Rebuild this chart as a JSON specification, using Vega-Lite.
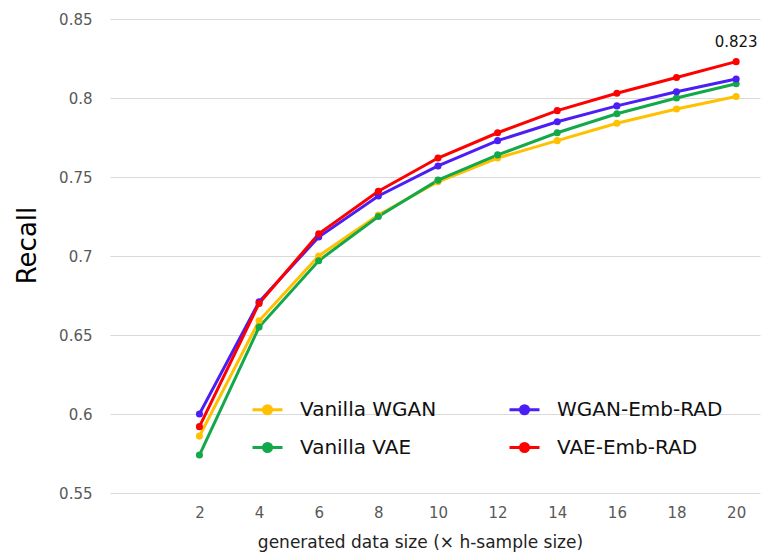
{
  "$schema": "https://vega.github.io/schema/vega-lite/v6.json",
  "autosize": "none",
  "width": 650,
  "height": 474,
  "padding": {"left": 110, "top": 19, "right": 2, "bottom": 63},
  "background": "white",
  "config": {
    "font": "DejaVu Sans",
    "view": {"stroke": null}
  },
  "data": {
    "values": [
      {"size": 2, "model": "Vanilla WGAN", "recall": 0.586},
      {"size": 4, "model": "Vanilla WGAN", "recall": 0.659},
      {"size": 6, "model": "Vanilla WGAN", "recall": 0.700},
      {"size": 8, "model": "Vanilla WGAN", "recall": 0.726},
      {"size": 10, "model": "Vanilla WGAN", "recall": 0.747},
      {"size": 12, "model": "Vanilla WGAN", "recall": 0.762},
      {"size": 14, "model": "Vanilla WGAN", "recall": 0.773},
      {"size": 16, "model": "Vanilla WGAN", "recall": 0.784},
      {"size": 18, "model": "Vanilla WGAN", "recall": 0.793},
      {"size": 20, "model": "Vanilla WGAN", "recall": 0.801},
      {"size": 2, "model": "Vanilla VAE", "recall": 0.574},
      {"size": 4, "model": "Vanilla VAE", "recall": 0.655},
      {"size": 6, "model": "Vanilla VAE", "recall": 0.697},
      {"size": 8, "model": "Vanilla VAE", "recall": 0.725},
      {"size": 10, "model": "Vanilla VAE", "recall": 0.748},
      {"size": 12, "model": "Vanilla VAE", "recall": 0.764},
      {"size": 14, "model": "Vanilla VAE", "recall": 0.778},
      {"size": 16, "model": "Vanilla VAE", "recall": 0.790},
      {"size": 18, "model": "Vanilla VAE", "recall": 0.800},
      {"size": 20, "model": "Vanilla VAE", "recall": 0.809},
      {"size": 2, "model": "WGAN-Emb-RAD", "recall": 0.600},
      {"size": 4, "model": "WGAN-Emb-RAD", "recall": 0.671},
      {"size": 6, "model": "WGAN-Emb-RAD", "recall": 0.712},
      {"size": 8, "model": "WGAN-Emb-RAD", "recall": 0.738},
      {"size": 10, "model": "WGAN-Emb-RAD", "recall": 0.757},
      {"size": 12, "model": "WGAN-Emb-RAD", "recall": 0.773},
      {"size": 14, "model": "WGAN-Emb-RAD", "recall": 0.785},
      {"size": 16, "model": "WGAN-Emb-RAD", "recall": 0.795},
      {"size": 18, "model": "WGAN-Emb-RAD", "recall": 0.804},
      {"size": 20, "model": "WGAN-Emb-RAD", "recall": 0.812},
      {"size": 2, "model": "VAE-Emb-RAD", "recall": 0.592},
      {"size": 4, "model": "VAE-Emb-RAD", "recall": 0.670},
      {"size": 6, "model": "VAE-Emb-RAD", "recall": 0.714},
      {"size": 8, "model": "VAE-Emb-RAD", "recall": 0.741},
      {"size": 10, "model": "VAE-Emb-RAD", "recall": 0.762},
      {"size": 12, "model": "VAE-Emb-RAD", "recall": 0.778},
      {"size": 14, "model": "VAE-Emb-RAD", "recall": 0.792},
      {"size": 16, "model": "VAE-Emb-RAD", "recall": 0.803},
      {"size": 18, "model": "VAE-Emb-RAD", "recall": 0.813},
      {"size": 20, "model": "VAE-Emb-RAD", "recall": 0.823, "label": "0.823"}
    ]
  },
  "encoding": {
    "x": {
      "field": "size", "type": "quantitative",
      "scale": {"domain": [-1, 20.8], "nice": false, "zero": false},
      "axis": {
        "values": [2, 4, 6, 8, 10, 12, 14, 16, 18, 20],
        "grid": false, "ticks": false, "domain": false,
        "labelFontSize": 15, "labelColor": "#595959", "labelPadding": 12,
        "title": "generated data size (× h-sample size)",
        "titleFontSize": 17, "titleFontWeight": "normal", "titleColor": "#222222",
        "titlePadding": 14, "titleX": 310
      }
    },
    "y": {
      "field": "recall", "type": "quantitative",
      "scale": {"domain": [0.55, 0.85], "nice": false, "zero": false},
      "axis": {
        "values": [0.55, 0.6, 0.65, 0.7, 0.75, 0.8, 0.85],
        "format": "~g",
        "grid": true, "gridColor": "#d9d9d9", "gridWidth": 1.2,
        "ticks": false, "domain": false,
        "labelFontSize": 15, "labelColor": "#595959", "labelPadding": 18,
        "title": "Recall", "titleFontSize": 26, "titleFontWeight": "normal",
        "titleColor": "#000000", "titlePadding": 18, "titleY": 226
      }
    },
    "color": {
      "field": "model", "type": "nominal",
      "scale": {
        "domain": ["Vanilla WGAN", "WGAN-Emb-RAD", "Vanilla VAE", "VAE-Emb-RAD"],
        "range": ["#FFC000", "#4B1EF5", "#13A84A", "#FF0000"]
      },
      "legend": {
        "orient": "none", "legendX": 141, "legendY": 374,
        "direction": "horizontal", "columns": 2, "title": null,
        "symbolType": "M-1,0H1M-0.27,0A0.27,0.27 0 1,0 0.27,0A0.27,0.27 0 1,0 -0.27,0",
        "symbolSize": 900, "symbolStrokeWidth": 3, "symbolOpacity": 1,
        "labelFontSize": 20, "labelColor": "#111111", "labelOffset": 16,
        "labelLimit": 300, "columnPadding": 66, "rowPadding": 11,
        "encode": {"symbols": {"update": {"fill": {"scale": "color", "field": "value"}, "stroke": {"scale": "color", "field": "value"}}}}
      }
    }
  },
  "layer": [
    {"mark": {"type": "line", "strokeWidth": 3}},
    {"mark": {"type": "point", "filled": true, "opacity": 1, "size": 50}},
    {
      "transform": [{"filter": "datum.label != null"}],
      "mark": {"type": "text", "fontSize": 15, "color": "#111111", "baseline": "bottom", "dy": -12},
      "encoding": {"text": {"field": "label"}, "color": {"value": "#111111"}}
    }
  ]
}
